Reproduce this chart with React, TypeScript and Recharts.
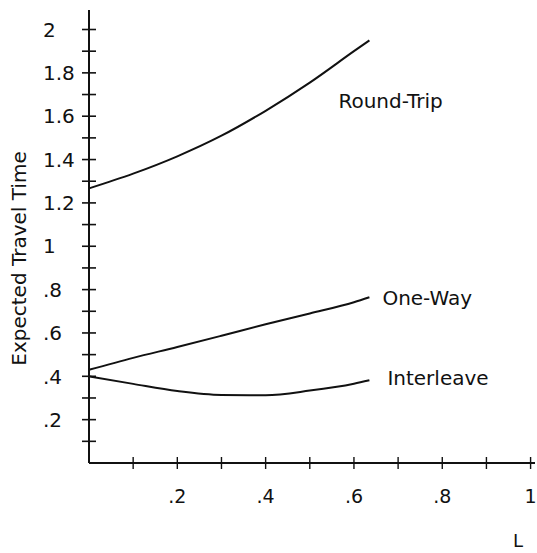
import { LineChart, Line, XAxis, YAxis } from 'recharts';

// L values along the x axis (curves stop a bit past .6)
const lValues = [0, 0.1, 0.2, 0.3, 0.4, 0.5, 0.6, 0.635];
const roundTrip = [1.267, 1.335, 1.415, 1.51, 1.625, 1.755, 1.9, 1.95];
const oneWay = [0.43, 0.485, 0.535, 0.587, 0.64, 0.69, 0.742, 0.765];
const interleave = [0.4, 0.365, 0.332, 0.314, 0.313, 0.334, 0.366, 0.382];

const xTicks = [0.1, 0.2, 0.3, 0.4, 0.5, 0.6, 0.7, 0.8, 0.9, 1];
const yTicks = [
  0.1, 0.2, 0.3, 0.4, 0.5, 0.6, 0.7, 0.8, 0.9, 1,
  1.1, 1.2, 1.3, 1.4, 1.5, 1.6, 1.7, 1.8, 1.9, 2,
];

const FONT = '"DejaVu Sans", sans-serif';
const INK = '#111';

const data = lValues.map((l, i) => ({
  l,
  roundTrip: roundTrip[i],
  oneWay: oneWay[i],
  interleave: interleave[i],
}));

// where each curve's name sits relative to its last point
const series = [
  { key: 'roundTrip', name: 'Round-Trip', dx: -31, dy: 60 },
  { key: 'oneWay', name: 'One-Way', dx: 13, dy: 1 },
  { key: 'interleave', name: 'Interleave', dx: 18, dy: -2 },
];

const fmt = (v: number) => (v >= 1 ? String(v) : String(v).replace(/^0/, ''));
const isMajor = (v: number) => Math.round(v * 10) % 2 === 0;

const YTick = ({ x, y, payload }: any) => {
  const v = payload.value;
  return (
    <g>
      <line x1={x - 7} x2={x + 7} y1={y} y2={y} stroke={INK} strokeWidth={1.6} />
      {isMajor(v) && (
        <text x={x - 46} y={y} dy="0.36em" textAnchor="start" fontFamily={FONT} fontSize={20} fill={INK}>
          {fmt(v)}
        </text>
      )}
    </g>
  );
};

const XTick = ({ x, y, payload }: any) => {
  const v = payload.value;
  return (
    <g>
      <line x1={x} x2={x} y1={y - 6} y2={y + 6} stroke={INK} strokeWidth={1.4} />
      {isMajor(v) && (
        <text x={x} y={y + 33} dy="0.36em" textAnchor="middle" fontFamily={FONT} fontSize={19} fill={INK}>
          {fmt(v)}
        </text>
      )}
    </g>
  );
};

const YTitle = ({ viewBox }: any) => {
  const cx = viewBox.x + 19;
  const cy = viewBox.y + viewBox.height / 2 + 22;
  return (
    <text
      x={cx}
      y={cy}
      dy="0.36em"
      textAnchor="middle"
      transform={`rotate(-90 ${cx} ${cy})`}
      fontFamily={FONT}
      fontSize={20}
      fill={INK}
    >
      Expected Travel Time
    </text>
  );
};

const XTitle = ({ viewBox }: any) => (
  <text
    x={viewBox.x + viewBox.width - 17}
    y={viewBox.y + 84}
    textAnchor="middle"
    fontFamily={FONT}
    fontSize={18}
    fill={INK}
  >
    L
  </text>
);

const makeEndLabel = (name: string, dx: number, dy: number) => (props: any) => {
  if (props.index !== lValues.length - 1) return <g />;
  return (
    <text
      x={props.x + dx}
      y={props.y + dy}
      dy="0.36em"
      textAnchor="start"
      fontFamily={FONT}
      fontSize={20}
      fill={INK}
    >
      {name}
    </text>
  );
};

const App = () => {
  return (
    <div style={{ position: 'absolute', left: 0, top: 0, background: '#fff' }}>
      <LineChart
        width={537}
        height={553}
        data={data}
        margin={{ top: 10, right: 2, left: 0, bottom: 5 }}
      >
        <XAxis
          dataKey="l"
          type="number"
          domain={[0, 1.01]}
          ticks={xTicks}
          tick={<XTick />}
          tickLine={false}
          tickSize={0}
          tickMargin={0}
          height={85}
          axisLine={{ stroke: INK, strokeWidth: 2 }}
          label={<XTitle />}
          interval={0}
        />
        <YAxis
          type="number"
          domain={[0, 2.09]}
          ticks={yTicks}
          tick={<YTick />}
          tickLine={false}
          tickSize={0}
          tickMargin={0}
          width={89}
          axisLine={{ stroke: INK, strokeWidth: 2 }}
          label={<YTitle />}
          interval={0}
        />
        {series.map((s) => (
          <Line
            key={s.key}
            dataKey={s.key}
            type="monotone"
            stroke={INK}
            strokeWidth={2}
            dot={false}
            isAnimationActive={false}
            label={makeEndLabel(s.name, s.dx, s.dy)}
          />
        ))}
      </LineChart>
    </div>
  );
};

export default App;
